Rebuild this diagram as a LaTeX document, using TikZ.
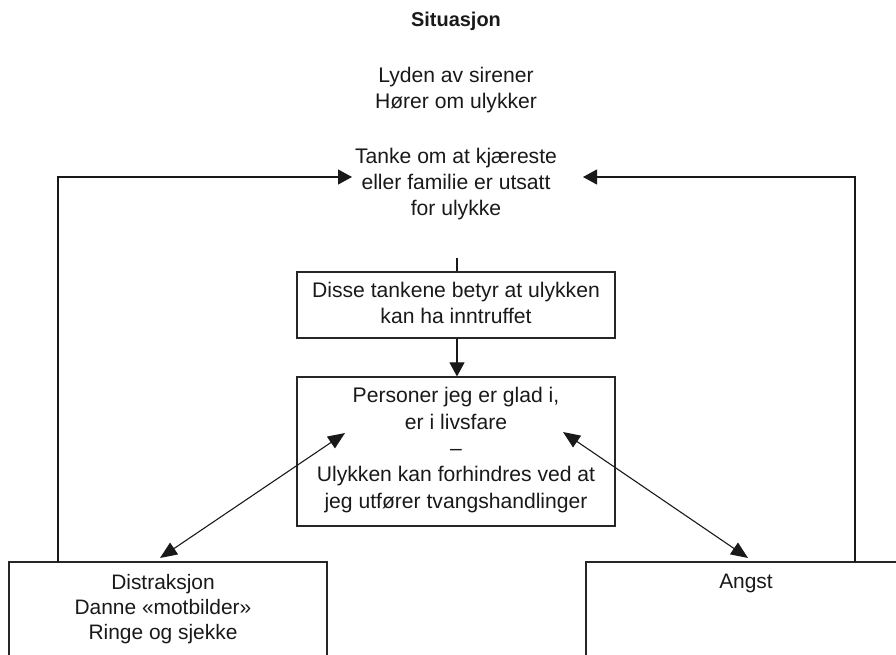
\documentclass[tikz,border=0pt]{standalone}
\usepackage{fontspec}
\setmainfont{Liberation Sans}
\usetikzlibrary{arrows.meta}
\begin{document}
\begin{tikzpicture}[x=1bp,y=-1bp,
  txt/.style={align=center,inner sep=0pt,font=\fontsize{21.2}{26.5}\selectfont,text=black!90},
  btxt/.style={align=center,inner sep=0pt,font=\fontsize{21}{25}\selectfont,text=black!90},
  box/.style={draw=black!85,line width=1.2pt,rectangle,inner sep=0pt},
  conn/.style={draw=black!90,line width=1.1pt},
  tip/.style={-{Triangle[length=14bp,width=15bp]}},
  dtip/.style={{Triangle[length=17bp,width=14bp]}-{Triangle[length=17bp,width=14bp]}}]
\useasboundingbox (0,0) rectangle (896,655);
\clip (0,0) rectangle (896,655);
% top texts
\node[txt,font=\fontsize{20}{24}\selectfont\bfseries] (sit) at (456,21) {Situasjon};
\node[txt] (lyd) at (456,90) {Lyden av sirener\\Hører om ulykker};
\node[txt] (tanke) at (456,184) {Tanke om at kjæreste\\eller familie er utsatt\\for ulykke};
% boxes
\node[box,minimum width=318bp,minimum height=66bp] (disse) at (456,305) {};
\node[txt] (dissetxt) at (456,303) {Disse tankene betyr at ulykken\\kan ha inntruffet};
\node[box,minimum width=318bp,minimum height=149bp] (pers) at (456,451.5) {};
\node[txt] (perstxt) at (456,450) {Personer jeg er glad i,\\er i livsfare\\–\\Ulykken kan forhindres ved at\\jeg utfører tvangshandlinger};
\node[box,minimum width=318bp,minimum height=150bp] (lbox) at (168,637) {};
\node[btxt,anchor=north] (ltxt) at (163,574) {Distraksjon\\Danne «motbilder»\\Ringe og sjekke};
\node[box,minimum width=414bp,minimum height=150bp] (rbox) at (793,637) {};
\node[btxt,anchor=north] (rtxt) at (746,574) {Angst};
% connector coordinates
\coordinate (lstart) at (58,562);
\coordinate (ltip) at (352,177);
\coordinate (rstart) at (855,562);
\coordinate (rtip) at (583,177);
\coordinate (tstart) at (457,258);
\coordinate (la) at (160,558);
\coordinate (lb) at (345,433);
\coordinate (ra) at (563,432);
\coordinate (rb) at (748,558);
% connectors
\draw[conn,tip] (lstart) |- (ltip);
\draw[conn,tip] (rstart) |- (rtip);
\draw[conn] (tstart) -- (disse.north -| tstart);
\draw[conn,tip] (disse.south -| tstart) -- (pers.north -| tstart);
\draw[conn,dtip] (la) -- (lb);
\draw[conn,dtip] (ra) -- (rb);
\end{tikzpicture}
\end{document}
